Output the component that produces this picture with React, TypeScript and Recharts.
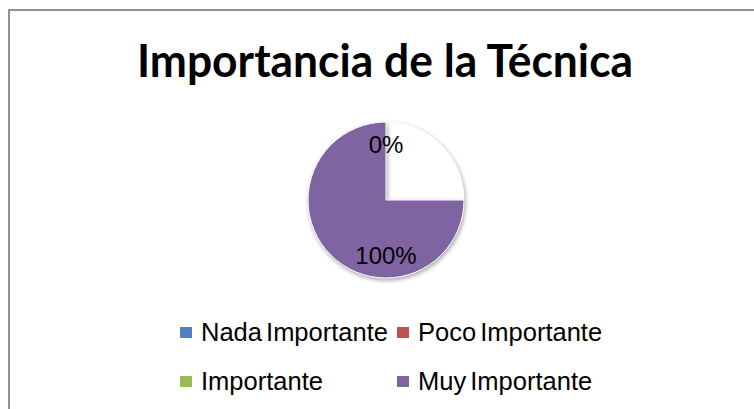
import React from 'react';
import { PieChart, Pie, Cell, Legend } from 'recharts';

// Legend categories and their values (percent of answers)
const categories = ['Nada Importante', 'Poco Importante', 'Importante', 'Muy Importante'];
const seriesValues = [0, 0, 0, 100];
const seriesColors = ['#4F81BD', '#C0504D', '#9BBB59', '#8064A2'];

// The disk as it is drawn in the picture: an empty quarter and the purple area
const drawnNames = ['(vacío)', 'Muy Importante'];
const drawnShares = [25, 75];
const drawnColors = ['#FFFFFF', '#8064A2'];

const titleText = 'Importancia de la Técnica';

const labelData = categories.map((name, i) => ({ name, value: seriesValues[i] }));
const drawnData = drawnNames.map((name, i) => ({ name, value: drawnShares[i] }));

const RAD = Math.PI / 180;
const firstZero = seriesValues.indexOf(0);

const renderLabel = (props: any) => {
  const { cx, cy, midAngle, outerRadius, percent, index } = props;
  if (seriesValues[index] === 0 && index !== firstZero) return <g />;
  const r = outerRadius * 0.71;
  const x = cx + r * Math.cos(-midAngle * RAD);
  const y = cy + r * Math.sin(-midAngle * RAD);
  return (
    <text
      x={x}
      y={y}
      textAnchor="middle"
      dominantBaseline="central"
      fontFamily="'Liberation Sans', Arial, sans-serif"
      fontSize={24}
      fill="#000"
    >
      {`${Math.round(percent * 100)}%`}
    </text>
  );
};

const renderLegend = () => (
  <div
    style={{
      display: 'grid',
      gridTemplateColumns: '217px 217px',
      gridAutoRows: '49px',
      paddingLeft: 180,
      fontFamily: "'Liberation Sans', Arial, sans-serif",
      fontSize: 25.5,
      color: '#000',
    }}
  >
    {categories.map((c, i) => (
      <div key={c} style={{ display: 'flex', alignItems: 'center', height: 30, whiteSpace: 'nowrap' }}>
        <span style={{ display: 'inline-block', width: 12, height: 11, background: seriesColors[i], marginRight: 9 }} />
        <span style={{ lineHeight: '30px', wordSpacing: -3 }}>{c}</span>
      </div>
    ))}
  </div>
);

export default function App() {
  return (
    <div style={{ position: 'absolute', left: 0, top: 0, width: 754, height: 409, overflow: 'hidden', background: '#fff' }}>
      <div
        style={{
          position: 'absolute',
          left: 8,
          top: 9,
          width: 800,
          height: 450,
          borderLeft: '2px solid #909090',
          borderTop: '2px solid #909090',
        }}
      />
      <svg width={754} height={100} style={{ position: 'absolute', left: 0, top: 0 }}>
        <text
          x={385}
          y={77}
          textAnchor="middle"
          fontFamily="Lato, 'Open Sans', sans-serif"
          fontWeight={700}
          fontSize={46}
          textLength={496}
          lengthAdjust="spacingAndGlyphs"
          fill="#000"
        >
          {titleText}
        </text>
      </svg>
      <div style={{ position: 'absolute', left: 0, top: 0 }}>
        <PieChart width={754} height={409} margin={{ top: 0, right: 0, bottom: 0, left: 0 }}>
          <Pie
            data={drawnData}
            dataKey="value"
            nameKey="name"
            cx={386}
            cy={200}
            outerRadius={78}
            startAngle={90}
            endAngle={-270}
            stroke="#fff"
            strokeWidth={1}
            isAnimationActive={false}
            legendType="none"
          >
            {drawnData.map((d, i) => (
              <Cell
                key={d.name}
                fill={drawnColors[i]}
                style={{ filter: 'drop-shadow(1px 2px 2px rgba(0,0,0,0.35))' }}
              />
            ))}
          </Pie>
          <Pie
            data={labelData}
            dataKey="value"
            nameKey="name"
            cx={386}
            cy={200}
            outerRadius={78}
            startAngle={90}
            endAngle={-270}
            isAnimationActive={false}
            label={renderLabel}
            labelLine={false}
          >
            {labelData.map((d) => (
              <Cell key={d.name} fill="transparent" stroke="none" />
            ))}
          </Pie>
          <Legend
            content={renderLegend}
            wrapperStyle={{ position: 'absolute', left: 0, top: 317, width: 754 }}
          />
        </PieChart>
      </div>
    </div>
  );
}
